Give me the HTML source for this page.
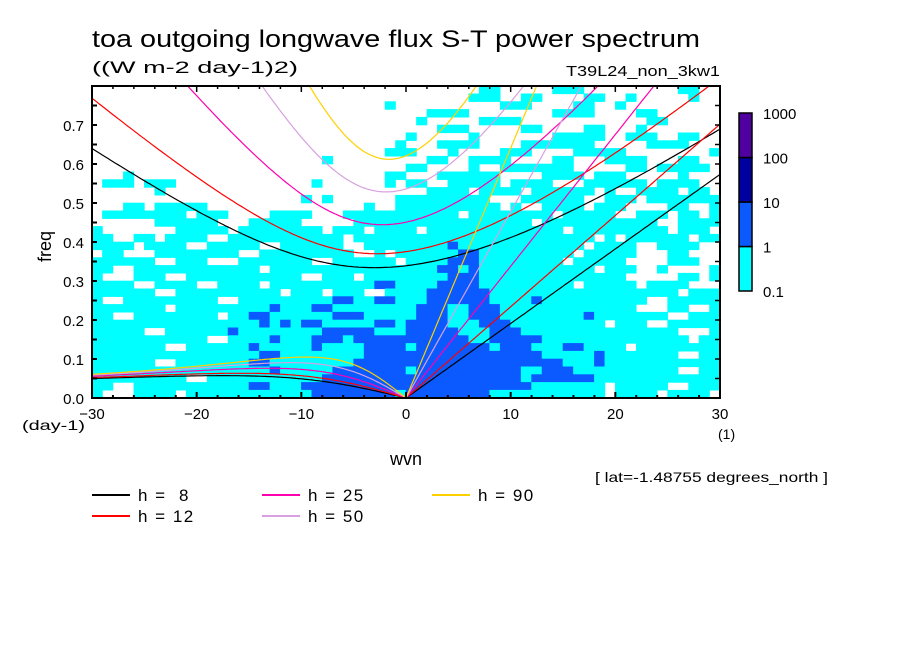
<!DOCTYPE html>
<html><head><meta charset="utf-8"><style>
html,body{margin:0;padding:0;background:#fff;}
svg{display:block;font-family:"Liberation Sans",sans-serif;}
</style></head><body>
<svg id="chart" width="904" height="654" viewBox="0 0 904 654" xmlns="http://www.w3.org/2000/svg">
<defs><clipPath id="plotclip"><rect x="92" y="86" width="628" height="312"/></clipPath></defs>
<rect x="0" y="0" width="904" height="654" fill="#fff"/>
<text x="92" y="47" font-size="24" textLength="608" lengthAdjust="spacingAndGlyphs">toa outgoing longwave flux S-T power spectrum</text>
<text x="92" y="73" font-size="17" textLength="206" lengthAdjust="spacingAndGlyphs">((W m-2 day-1)2)</text>
<text x="566" y="76" font-size="15" textLength="154" lengthAdjust="spacingAndGlyphs">T39L24_non_3kw1</text>
<g id="field" clip-path="url(#plotclip)"></g>
<g id="curves" clip-path="url(#plotclip)"></g>
<g id="axes"></g>
<text x="0" y="0" font-size="18" transform="translate(51,262) rotate(-90)">freq</text>
<text x="22" y="430" font-size="14" textLength="63" lengthAdjust="spacingAndGlyphs">(day-1)</text>
<text x="718" y="439" font-size="14">(1)</text>
<text x="390" y="465" font-size="18">wvn</text>
<text x="595" y="482" font-size="14" textLength="233" lengthAdjust="spacingAndGlyphs">[ lat=-1.48755 degrees_north ]</text>
<g id="colorbar"></g>
<g id="legend"></g>
</svg>
<script>
const NS="http://www.w3.org/2000/svg";
// ---- data ----
const depths=[8,12,25,50,90];
const depthColors=["#000000","#ff0000","#ff00b0","#d8a0e0","#ffd000"];
const levelColors=["none","#00ffff","#0a5aff","#0000a0","#5000a0"];
const levelLabels=["0.1","1","10","100","1000"];
const yTicks=[0,0.1,0.2,0.3,0.4,0.5,0.6,0.7];
const xTicks=[-30,-20,-10,0,10,20,30];
// grid rows top (freq 0.80) to bottom (0.00), 6 groups of 10 cols (wvn -30..30); .=none c=0.1-1 b=1-10
const W="..........";
const fieldRows=[
[W,W,W,".......cc.","....ccc...","......cc.."],
[W,W,W,"......ccc.",".cc....cc.",".c.....c.."],
[W,W,"........c.",".........c","cc....cc..","c........."],
[W,W,W,"..cccc....","....cccc..","..cc......"],
[W,W,W,".c.....ccc","c.........","...cc....."],
[W,W,W,"...ccc....",".cc....cc.","..c......."],
[W,W,W,"c.....c...","....ccccc.",".ccc..cc.."],
[W,W,".........c","...cccc...",".ccccccc..","...cccc..."],
[W,W,"........cc","c...c....c","cc....cccc","c........c"],
[W,W,"..c.......","..cc..cccc","....cc...c","ccc...cc.."],
[W,W,W,"cc....c..c","cccccc....",".cc.ccccc."],
["...c......",W,"........cc","...cccccc.","...cccc.cc","c.....c..."],
[".ccc.ccc..",W,".c......c.","cc..ccccc.","cccc...ccc","ccc.cccc.."],
["......c...",W,W,"..cccc.ccc","c.cccccc.c","..cccc.cc."],
[W,W,"c.c......c","cccccccc..",".cccccc..c","cc.ccccccc"],
["...cc.cccc","c.........","......c..c","ccccccccc.","c..cccc.cc","c....cc..c"],
[".cccccccc.","ccc....ccc","c...cccccc","ccccc.cccc","cccc.ccccc","..ccc.cc.c"],
["......cccc","cc...ccccc",".....ccccc","cccccccccc","cc.ccccccc","cccc..cccc"],
["c.......cc","ccc.cccccc","cc.ccc.ccc","c.cccccccc","ccccc.cccc","ccccc.ccc."],
["cc..cc.ccc","c..ccccccc","cccc.ccccc","cccccccccc","cccccccc.c",".cccccc.cc"],
["cccc.cccc.",".ccccc..cc","cccc..cccc","ccccbccccc","ccccccc.cc","cc..cccc.."],
[".cc...cccc","cccc..cccc","ccccc..c.c","cccccbbccc","cccccc.ccc","cc...cc..."],
["cccccc..cc","c...cccccc","c..cccccc.","ccccbbbccc","ccccc.cccc","c....ccc.."],
["cc..cccccc","cccccc.ccc","cccccccccc","cccbbcbccc","cccccccc.c","cc..c....c"],
["c...ccc..c","cccccccccc","..ccc.cccc","ccccbbbccc","cccccccccc","c.....cc.c"],
["cccc..cccc","..cccc.ccc","cccccccbbc","cccbbbbccc","cccccc.ccc","cc.cccc..."],
["cccccc..cc","cccccccc.c","cc.ccc..cc","ccbbbbbbcc","cccccccccc","cccccc.ccc"],
["c..ccccccc","cc..cccccc","cccbbccbbc","ccbbbbbbcc","ccbccccccc","ccc..ccccc"],
["ccccccc.cc","cccccccbcc","cbbccccccc","cbbbccbbbc","cccccccccc","cc...cc..c"],
["cc..cccccc","cc.ccbbccc","cccbbbcccc","cbbbccbbbc","cccccccbcc","ccccc..ccc"],
["cccccccccc","ccccccbcbc","bbcccccbbc","bbbbcccbbb","ccccccccc.","ccc..ccccc"],
["ccccc..ccc","cccbcccccc","ccbbbbbccc","bbbbbcccbb","bccccccccc","cccccc...c"],
["cccccccccc","c..ccccbcc","cbbbcbbbbb","bbbbbbccbb","bbbccccccc","ccccccc.cc"],
["ccccccc..c","cccccbcccc","cbccccbbbb","cbbbbbbbcb","bbcccbbccc","c.cccccccc"],
["cccccccccc","ccccccbbcc","ccccccbbbb","bbbbbbbbbb","bbbcccccbc","cccccc..cc"],
["cccccc..cc","cccccbbccc","cccccbbbbb","bbbbbbbbbb","bbbbbcccbc","cccccccccc"],
["cccccccccc","cccccccbcc","cccbbbbbbb","cbbbbbbbbb","bccbbbcccc","cccccc..cc"],
["ccccccccc.",".ccccccccc","ccbbbbbbbb","bbbbbbbbbb","bcbbbbbbcc","cccccccccc"],
["cc..cccccc","cccccbbccc","bbbbbbbbbb","bbbbbbbbbb","bbccccccc.","ccccc..ccc"],
["c...cccc.c","cccccccccc","cbbbbbbbbc","bbbbbbbbcc","ccccccccc.","cccc.cccc."]
].map(g=>(g.join('')+"............................................................").slice(0,60));
// ---- scales ----
const X0=92,X1=720,Y0=398,Y1=86;
const xScale=w=>X0+(w+30)*(X1-X0)/60;
const yScale=f=>Y0-f*(Y0-Y1)/0.8;
function mk(tag,attrs,parent){const e=document.createElementNS(NS,tag);for(const k in attrs)e.setAttribute(k,attrs[k]);parent.appendChild(e);return e;}
// ---- field ----
const field=document.getElementById('field');
const nRows=fieldRows.length, dF=0.8/nRows;
fieldRows.forEach((row,r)=>{
  const fTop=0.8-r*dF;
  for(let i=0;i<60;i++){
    const ch=row[i];
    const lvl=ch==='c'?1:ch==='b'?2:ch==='n'?3:0;
    if(!lvl)continue;
    const rc=mk('rect',{x:xScale(-30+i)-0.3,y:yScale(fTop)-0.3,width:xScale(-29+i)-xScale(-30+i)+0.6,height:yScale(fTop-dF)-yScale(fTop)+0.6,fill:levelColors[lvl]},field);
    
    
  }
});
// ---- dispersion curves ----
const g=9.8,R=6.371e6,beta=2*7.292e-5/R,toCpd=86400/(2*Math.PI);
function solve(s,c,w0){const k=s/R,A=c*c*(k*k+3*beta/c),B=beta*k*c*c;let w=w0;for(let i=0;i<60;i++){const p=w*w*w-A*w-B,dp=3*w*w-A;w-=p/dp;}return w;}
const curves=document.getElementById('curves');
depths.forEach((h,j)=>{
  const c=Math.sqrt(g*h),col=depthColors[j];
  const ig=[],er=[],kv=[];
  for(let s=-30;s<=30.001;s+=0.25){
    const k=s/R;
    ig.push([s,solve(s,c,Math.sqrt(c*c*k*k+3*beta*c)*1.2)*toCpd]);
    if(s<=0){er.push([s,s===0?0:solve(s,c,-beta*k/(k*k+3*beta/c))*toCpd]);}
    if(s>=0){kv.push([s,k*c*toCpd]);}
  }
  [[ig,'ig'],[er,'er'],[kv,'kelvin']].forEach(([pts,nm])=>{
    const p=mk('polyline',{points:pts.map(q=>xScale(q[0]).toFixed(1)+','+yScale(q[1]).toFixed(1)).join(' '),fill:'none',stroke:col,'stroke-width':1.2},curves);
    
    
  });
});
// ---- axes ----
const axes=document.getElementById('axes');
mk('rect',{x:X0,y:Y1,width:X1-X0,height:Y0-Y1,fill:'none',stroke:'#000','stroke-width':2},axes);
for(let w=-30;w<=30;w+=2){const x=xScale(w),L=(w%10===0)?6:3;mk('line',{x1:x,x2:x,y1:Y0,y2:Y0-L,stroke:'#000','stroke-width':2},axes);mk('line',{x1:x,x2:x,y1:Y1,y2:Y1+L,stroke:'#000','stroke-width':1.5},axes);}
for(let f=0;f<=0.8001;f+=0.05){const y=yScale(f);mk('line',{x1:X0,x2:X0+5,y1:y,y2:y,stroke:'#000','stroke-width':2},axes);mk('line',{x1:X1,x2:X1-5,y1:y,y2:y,stroke:'#000','stroke-width':1.5},axes);}
yTicks.forEach(f=>{const t=mk('text',{x:84,y:yScale(f)+6,'font-size':15,'text-anchor':'end'},axes);t.textContent=f.toFixed(1);});
xTicks.forEach(w=>{const t=mk('text',{x:xScale(w),y:419,'font-size':15,'text-anchor':'middle'},axes);t.textContent=(w<0?'\u2212':'')+Math.abs(w);});
// ---- colorbar ----
const cb=document.getElementById('colorbar');
const cbTop=113,cbBot=291,seg=(cbBot-cbTop)/4;
for(let i=0;i<4;i++){const y=cbBot-(i+1)*seg;const r=mk('rect',{x:739,y:y,width:13,height:seg,fill:levelColors[i+1],stroke:'#000','stroke-width':1.5},cb);}
levelLabels.forEach((l,i)=>{const t=mk('text',{x:763,y:cbBot-i*seg+6,'font-size':15},cb);t.textContent=l;});
// ---- legend ----
const lg=document.getElementById('legend');
const legPos=[[92,495],[92,516],[262,495],[262,516],[432,495]];
depths.forEach((h,j)=>{const [x,y]=legPos[j];
  const l=mk('line',{x1:x,x2:x+38,y1:y,y2:y,stroke:depthColors[j],'stroke-width':2},lg);
  
  
  const t=mk('text',{x:x+46,y:y+6,'font-size':17,'letter-spacing':'1.5'},lg);
  t.style.whiteSpace='pre';
  t.textContent='h = '+(h<10?' ':'')+h;
  
  
});
</script>
</body></html>
